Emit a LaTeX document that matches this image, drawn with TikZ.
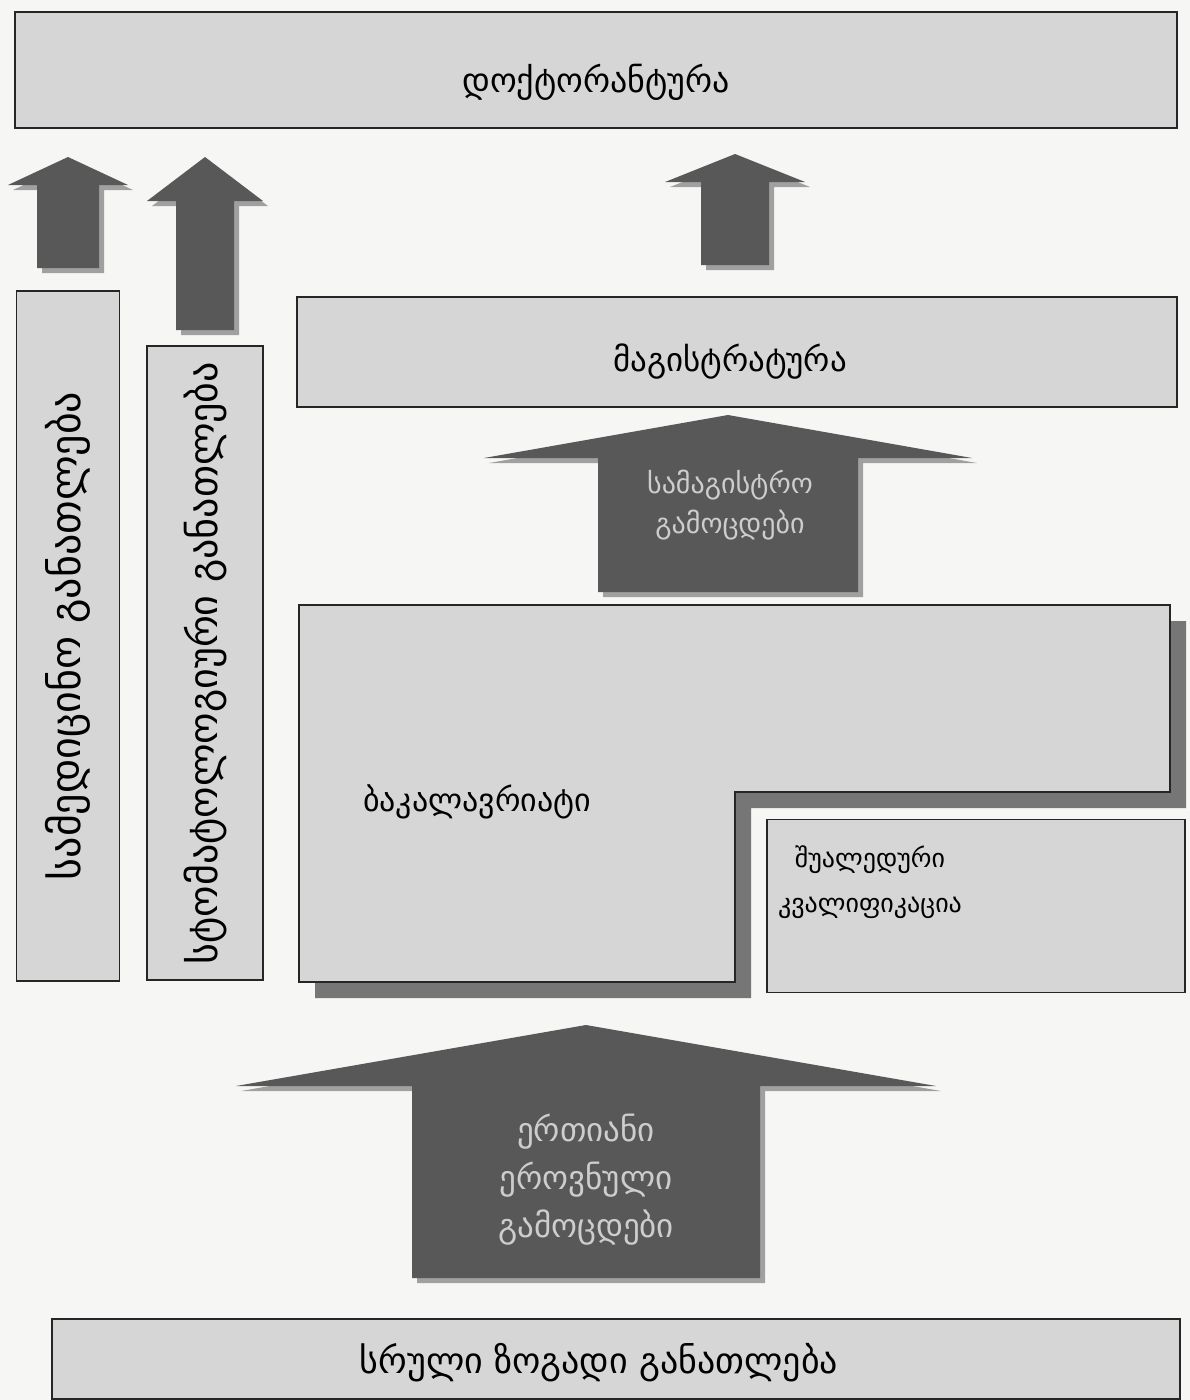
\documentclass[tikz,border=0pt]{standalone}
\usepackage{fontspec}
\newfontfamily\geofont{DejaVu Sans}
\definecolor{paper}{RGB}{246,246,244}
\definecolor{boxgray}{RGB}{214,214,214}
\definecolor{arrowgray}{RGB}{88,88,88}
\definecolor{shadegray}{RGB}{160,160,160}
\definecolor{lshadegray}{RGB}{118,118,118}
\definecolor{arrowtext}{RGB}{205,205,205}

% block arrow pointing up: centre x, tip y, wing half, wing y, shaft half, foot y
\newcommand{\blockup}[6]{%
  \fill[arrshade,shift={(5,5)}] (#1,#2) -- ({#1+#3},#4) -- ({#1+#5},#4) -- ({#1+#5},#6)
    -- ({#1-#5},#6) -- ({#1-#5},#4) -- ({#1-#3},#4) -- cycle;
  \fill[arr] (#1,#2) -- ({#1+#3},#4) -- ({#1+#5},#4) -- ({#1+#5},#6)
    -- ({#1-#5},#6) -- ({#1-#5},#4) -- ({#1-#3},#4) -- cycle;}

\begin{document}
\begin{tikzpicture}[x=1pt,y=-1pt,
    level/.style={draw=black!85,line width=1.5pt,fill=boxgray,inner sep=0pt},
    big/.style={font=\geofont\fontsize{34}{40}\selectfont},
    tall/.style={font=\geofont\fontsize{40}{46}\selectfont},
    mid/.style={font=\geofont\fontsize{26}{45}\selectfont,align=center},
    arr/.style={fill=arrowgray},
    arrshade/.style={fill=shadegray},
    arrlabel/.style={text=arrowtext,align=center}]
  \fill[paper] (0,0) rectangle (1190,1400);
  \useasboundingbox (0,0) rectangle (1190,1400);

  % levels
  \node[level,minimum width=1162,minimum height=116] (doct) at (596,70) {};
  \node[big] (doctlbl) at (596,82) {დოქტორანტურა};
  \node[level,minimum width=880,minimum height=110] (mag) at (737,352) {};
  \node[big,font=\geofont\fontsize{33}{40}\selectfont] (maglbl) at (730,362) {მაგისტრატურა};
  \node[level,minimum width=1128,minimum height=80] (school) at (616,1359) {};
  \node[big,font=\geofont\fontsize{36}{40}\selectfont] (schoollbl) at (599,1363) {სრული ზოგადი განათლება};

  % vertical tracks
  \node[level,tall,font=\geofont\fontsize{42}{46}\selectfont,rotate=90,minimum width=690,minimum height=103] (med) at (68,636) {სამედიცინო განათლება};
  \node[level,tall,rotate=90,minimum width=634,minimum height=116] (dent) at (205,663) {სტომატოლოგიური განათლება};

  % bachelor block with its shadow
  \fill[lshadegray] (315,621) -- (1186,621) -- (1186,808) -- (751,808) -- (751,998) -- (315,998) -- cycle;
  \draw[level] (299,605) -- (1170,605) -- (1170,792) -- (735,792) -- (735,982) -- (299,982) -- cycle;
  \node[font=\geofont\fontsize{32}{40}\selectfont] (bach) at (477,802) {ბაკალავრიატი};
  \node[level,minimum width=418,minimum height=173] (inter) at (976,906) {};
  \node[mid] (interlbl) at (870,882) {შუალედური\\კვალიფიკაცია};

  % arrows
  \blockup{68}{157}{60}{185}{31}{268}
  \blockup{205}{157}{58}{201}{29}{330}
  \blockup{735}{154}{70}{182}{34}{265}
  \blockup{728}{415}{244}{458}{130}{592}
  \blockup{586}{1025}{350}{1086}{174}{1278}
  \node[arrlabel,font=\geofont\fontsize{28}{40}\selectfont] (mexam) at (730,505) {სამაგისტრო\\გამოცდები};
  \node[arrlabel,font=\geofont\fontsize{33}{48}\selectfont] (nexam) at (586,1180) {ერთიანი\\ეროვნული\\გამოცდები};
\end{tikzpicture}
\end{document}
